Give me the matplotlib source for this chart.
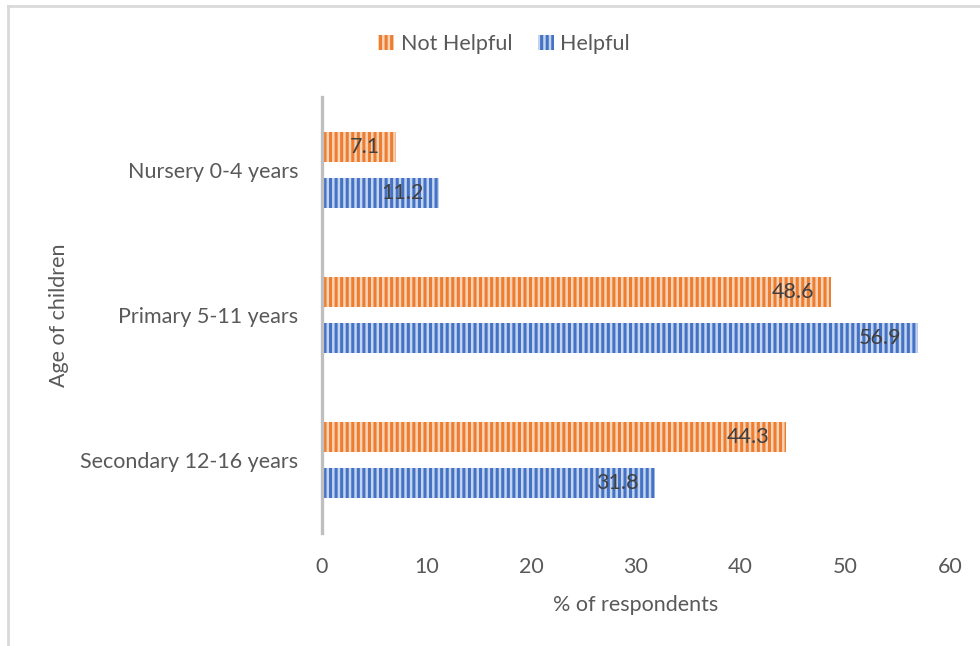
import matplotlib
matplotlib.use("Agg")
import matplotlib.pyplot as plt
from matplotlib.lines import Line2D
import numpy as np

plt.rcParams['font.family'] = ['Lato', 'DejaVu Sans']
plt.rcParams['hatch.linewidth'] = 2.2

categories = ["Secondary 12-16 years", "Primary 5-11 years", "Nursery 0-4 years"]
not_helpful = [44.3, 48.6, 7.1]
helpful = [31.8, 56.9, 11.2]
series_names = ["Not Helpful", "Helpful"]

orange = "#ED7D31"
orange_light = "#F9D3B5"
blue = "#4472C4"
blue_light = "#C5D4EE"
text_grey = "#595959"
FS = 15.5

W, H = 980, 646
fig = plt.figure(figsize=(W / 100, H / 100), dpi=100)
ax = fig.add_axes([322 / W, 1 - 533 / H, 628 / W, 436 / H])

y = np.arange(len(categories))
bar_h = 0.205
off = 0.158

b1 = ax.barh(y + off, not_helpful, height=bar_h, color=orange_light,
             edgecolor=orange, hatch="|||", linewidth=0, label=series_names[0])
b2 = ax.barh(y - off, helpful, height=bar_h, color=blue_light,
             edgecolor=blue, hatch="|||", linewidth=0, label=series_names[1])

for bars, vals in ((b1, not_helpful), (b2, helpful)):
    for rect, v in zip(bars, vals):
        ax.annotate(f"{v:.1f}", xy=(v, rect.get_y() + rect.get_height() / 2),
                    xytext=(-16, 0), textcoords="offset pixels",
                    ha="right", va="center", fontsize=FS, color="#404040")

ax.set_xlim(0, 60)
ax.set_ylim(-0.5, 2.5)
ax.set_xticks(range(0, 61, 10))
ax.set_yticks(y)
ax.set_yticklabels(categories)
ax.tick_params(axis="both", length=0, labelsize=FS, colors=text_grey)
ax.tick_params(axis="x", pad=17)
ax.tick_params(axis="y", pad=17)

for s in ("top", "right", "bottom"):
    ax.spines[s].set_visible(False)
ax.spines["left"].set_color("#BFBFBF")
ax.spines["left"].set_linewidth(2.4)

ax.set_xlabel("% of respondents", fontsize=FS, color=text_grey, labelpad=13)
ax.set_ylabel("Age of children", fontsize=FS, color=text_grey, labelpad=8)

handles = [
    plt.Rectangle((0, 0), 1, 1, facecolor=orange_light, edgecolor=orange, hatch="|||", linewidth=0),
    plt.Rectangle((0, 0), 1, 1, facecolor=blue_light, edgecolor=blue, hatch="|||", linewidth=0),
]
fig.legend(handles, series_names, loc="center", bbox_to_anchor=(504 / W, 1 - 44 / H),
           ncol=2, frameon=False, fontsize=FS, labelcolor=text_grey,
           handlelength=0.75, handleheight=0.75, handletextpad=0.3, columnspacing=1.2)

# chart area border (left and top edges)
fig.add_artist(Line2D([7.5 / W, 7.5 / W], [0, 1 - 6 / H], transform=fig.transFigure,
                      color="#D9D9D9", linewidth=2))
fig.add_artist(Line2D([7.5 / W, 1], [1 - 6 / H, 1 - 6 / H], transform=fig.transFigure,
                      color="#D9D9D9", linewidth=2))

fig.savefig("out.png", dpi=100)
